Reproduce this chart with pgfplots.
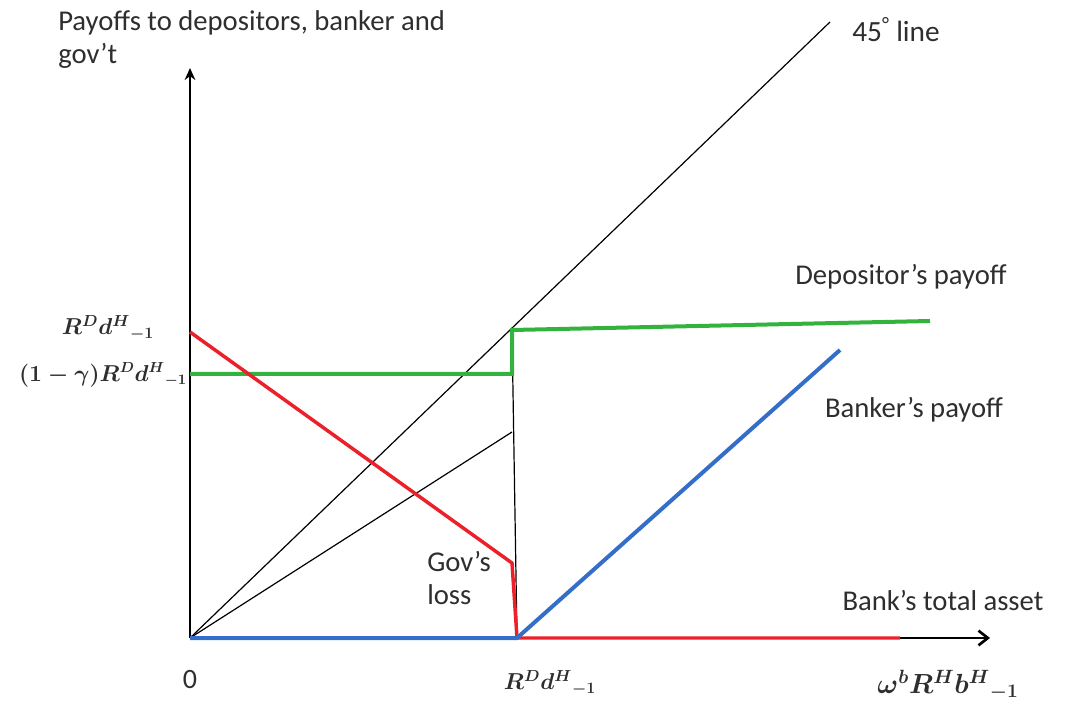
\documentclass[border=0pt]{standalone}
\usepackage{fontspec}
\setmainfont{Carlito}
\usepackage{pgfplots}
\pgfplotsset{compat=1.18}
\usetikzlibrary{arrows.meta}
\definecolor{pgreen}{RGB}{52,178,62}
\definecolor{pred}{RGB}{236,32,40}
\definecolor{pblue}{RGB}{52,110,200}
\colorlet{txt}{black!82}
\begin{document}
\begin{tikzpicture}
\begin{axis}[
  x=0.75pt, y=0.75pt,
  xmin=-190, xmax=878, ymin=-62, ymax=638,
  hide axis, clip=false, scale only axis,
]
\path[draw=none] (axis cs:-190,-62) rectangle (axis cs:878,638);
% axes
\addplot[black, line width=2.2pt, -{Stealth[length=9pt,width=8pt]}] coordinates {(0,0) (0,570)};
\addplot[black, line width=2pt, -{Straight Barb[length=7pt,width=11pt]}] coordinates {(0,0) (800,0)};
% 45 degree line
\addplot[black, line width=0.9pt] coordinates {(0,0) (640,616)};
% thin lines
\addplot[black, line width=0.9pt] coordinates {(0,0) (322,206)};
\addplot[black, line width=0.9pt] coordinates {(322,308) (327,0)};
% depositor payoff
\addplot[pgreen, line width=3pt] coordinates {(0,264) (322,264) (322,308) (740,317)};
% gov loss (red)
\addplot[pred, line width=2.6pt] coordinates {(0,306) (322,75) (327,0) (710,0)};
% banker payoff
\addplot[pblue, line width=3pt] coordinates {(0,0) (327,0) (650,288)};
% labels
\node[anchor=north west, align=left, inner sep=0pt, font=\fontsize{21.5}{25}\selectfont, text=txt] at (axis cs:-132,628) {Payoffs to depositors, banker and\\gov’t};
\node[font=\fontsize{22}{25}\selectfont, text=txt] at (axis cs:706,608) {45\textsuperscript{°} line};
\node[font=\fontsize{21.5}{25}\selectfont, text=txt] at (axis cs:711,361) {Depositor’s payoff};
\node[font=\fontsize{21.5}{25}\selectfont, text=txt] at (axis cs:724,228) {Banker’s payoff};
\node[anchor=north west, align=left, inner sep=0pt, font=\fontsize{21.5}{25}\selectfont, text=txt] at (axis cs:237,87) {Gov’s\\loss};
\node[font=\fontsize{21.5}{25}\selectfont, text=txt] at (axis cs:753,38) {Bank’s total asset};
\node[font=\fontsize{21}{25}\selectfont, text=txt] at (axis cs:0,-42) {0};
\node[font=\fontsize{18}{21}\selectfont\boldmath, text=txt] at (axis cs:360,-45) {$R^{D}d^{H}{}_{-1}$};
\node[font=\fontsize{20}{21}\selectfont\boldmath, text=txt] at (axis cs:758,-47) {$\omega^{b}R^{H}b^{H}{}_{-1}$};
\node[font=\fontsize{18}{21}\selectfont\boldmath, text=txt] at (axis cs:-82,310) {$R^{D}d^{H}{}_{-1}$};
\node[font=\fontsize{16}{21}\selectfont\boldmath, text=txt] at (axis cs:-87,263) {$(1-\gamma)R^{D}d^{H}{}_{-1}$};
\end{axis}
\end{tikzpicture}
\end{document}
